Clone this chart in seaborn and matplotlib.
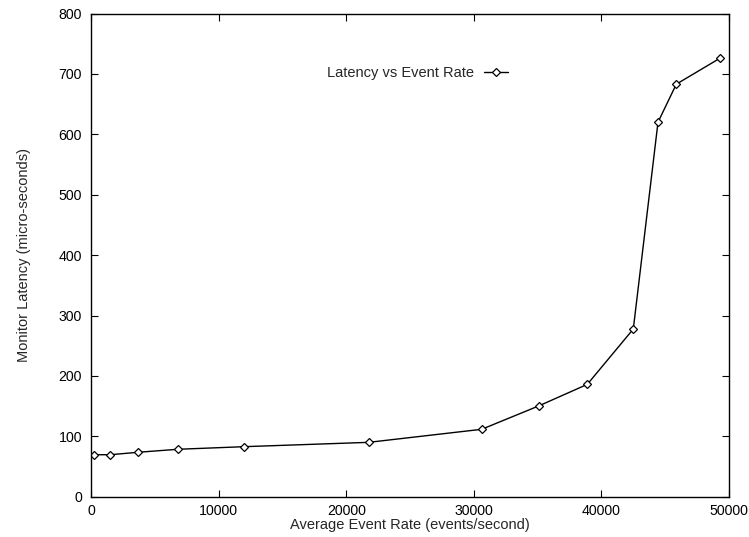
import matplotlib
matplotlib.use("Agg")
import matplotlib.pyplot as plt
import seaborn as sns
import pandas as pd

event_rate = [259, 1513, 3660, 6795, 11991, 21763, 30619, 35133, 38895, 42500, 44436, 45870, 49295]
latency = [69.5, 69.5, 73.5, 78.5, 82.8, 90, 111.6, 150.7, 186, 277.6, 620, 683, 726]
series_name = "Latency vs Event Rate"
x_ticks = [0, 10000, 20000, 30000, 40000, 50000]
y_ticks = [0, 100, 200, 300, 400, 500, 600, 700, 800]

sns.set_style("ticks")
plt.rcParams["font.family"] = ["Liberation Sans", "DejaVu Sans"]

df = pd.DataFrame({"rate": event_rate, "lat": latency})

fig = plt.figure(figsize=(7.49, 5.37), dpi=100)
ax = fig.add_axes([91/749, 1-496.7/537, 638/749, 483.2/537])
sns.lineplot(data=df, x="rate", y="lat", ax=ax, color="black", linewidth=1.0,
             marker="D", markersize=4.5, markerfacecolor="white",
             markeredgecolor="black", markeredgewidth=0.9, label=series_name)

ax.set_xlim(0, 50000)
ax.set_ylim(0, 800)
ax.set_xticks(x_ticks)
ax.set_yticks(y_ticks)
ax.tick_params(direction="in", length=5, width=0.8, top=True, right=True,
               labelsize=10.2, colors="black", pad=6.5)
ax.tick_params(axis="x", pad=5.5)
for s in ax.spines.values():
    s.set_visible(True)
    s.set_linewidth(1.0)
    s.set_color("black")
ax.set_xlabel("Average Event Rate (events/second)", fontsize=10.5, labelpad=0)
ax.set_ylabel("Monitor Latency (micro-seconds)", fontsize=10.5, labelpad=20)

leg = ax.legend(loc="center right", bbox_to_anchor=(0.662, 0.877), frameon=False,
                markerfirst=False, fontsize=10.5, handlelength=1.6, handletextpad=0.7,
                borderaxespad=0)

fig.savefig("out.png", dpi=100)
